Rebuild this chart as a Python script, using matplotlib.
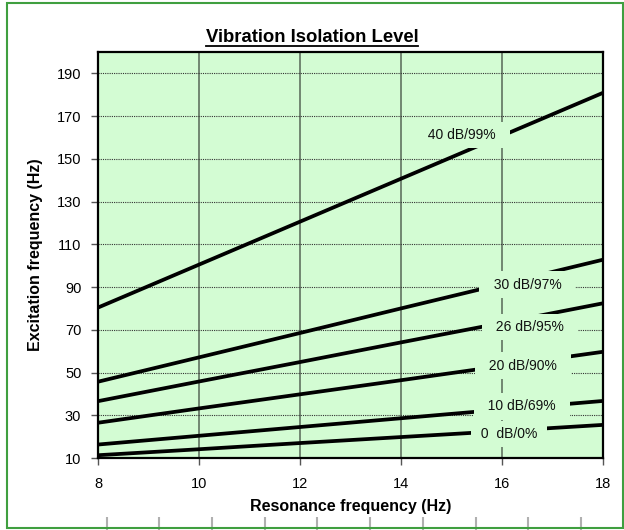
import matplotlib.pyplot as plt
from matplotlib.patches import Rectangle
from matplotlib.lines import Line2D

plt.rcParams['font.family'] = ['Liberation Sans', 'DejaVu Sans']

# resonance frequency (Hz)
res_freq = [8, 10, 12, 14, 16, 18]

# excitation frequency (Hz) for each isolation level
iso_40 = [80.4, 100.5, 120.6, 140.7, 160.8, 180.9]
iso_30 = [45.7, 57.1, 68.5, 80.0, 91.4, 102.8]
iso_26 = [36.6, 45.8, 54.9, 64.1, 73.2, 82.4]
iso_20 = [26.5, 33.2, 39.8, 46.4, 53.1, 59.7]
iso_10 = [16.3, 20.4, 24.5, 28.6, 32.7, 36.7]
iso_0 = [11.3, 14.1, 17.0, 19.8, 22.6, 25.5]

series = [iso_40, iso_30, iso_26, iso_20, iso_10, iso_0]
labels = ['40 dB/99%', '30 dB/97%', '26 dB/95%', '20 dB/90%', '10 dB/69%', '0  dB/0%']
label_x = [15.2, 16.5, 16.56, 16.42, 16.39, 16.14]
label_y = [161.1, 91.1, 71.2, 53.2, 34.2, 21.2]

y_ticks = list(range(10, 200, 20))
x_ticks = [8, 10, 12, 14, 16, 18]

bg = '#d3fcd3'

fig = plt.figure(figsize=(6.24, 5.30), dpi=100)
ax = fig.add_axes([98 / 624, 72 / 530, 505 / 624, 406 / 530])
ax.set_facecolor(bg)

for s in series:
    ax.plot(res_freq, s, color='black', lw=2.7, solid_capstyle='butt', zorder=3)

# labels sit on a box in the plot colour so they cut the lines and grid
for i, (txt, lx, ly) in enumerate(zip(labels, label_x, label_y)):
    sp = ' ' if i == len(labels) - 1 else '  '
    ax.text(lx, ly, sp + txt + sp, fontsize=10, ha='center', va='center', zorder=5,
            color='#111111',
            bbox=dict(boxstyle='square,pad=0.45', facecolor=bg, edgecolor='none'))

ax.set_xlim(8, 18)
ax.set_ylim(10, 200)
ax.set_xticks(x_ticks)
ax.set_yticks(y_ticks)
ax.tick_params(axis='both', labelsize=10.5, length=5, width=1, color='#555555')
ax.tick_params(axis='y', pad=7)
ax.tick_params(axis='x', pad=9)

ax.xaxis.grid(True, color='#566656', lw=1.1, zorder=1)
ax.yaxis.grid(True, color='#333333', lw=0.8, linestyle=(0, (1, 1)), zorder=1)
ax.set_axisbelow(True)
for side in ax.spines.values():
    side.set_linewidth(1.6)
    side.set_color('black')

fig.text(350.5 / 624, (530 - 506) / 530, 'Resonance frequency (Hz)', fontsize=11.5,
         fontweight='bold', ha='center', va='center')
fig.text(35.5 / 624, (530 - 255) / 530, 'Excitation frequency (Hz)', fontsize=11.5,
         fontweight='bold', ha='center', va='center', rotation=90)

title = fig.text(312 / 624, (530 - 37) / 530, 'Vibration Isolation Level', fontsize=13.3,
                 fontweight='bold', ha='center', va='center')

# underline the title
fig.canvas.draw()
bb = title.get_window_extent().transformed(fig.transFigure.inverted())
fig.add_artist(Line2D([bb.x0, bb.x1], [(530 - 46) / 530] * 2, color='black', lw=1.3,
                      transform=fig.transFigure))

# grey marks at the bottom edge (cut-off axis below)
bottom_marks = list(range(10))
ax2 = fig.add_axes([106.6 / 624, 0, (581 - 106.6) / 624, 13 / 530])
ax2.set_xlim(0, 9)
ax2.set_ylim(0, 1)
ax2.vlines(bottom_marks, 0, 1, color='#b0b0b0', lw=1.5, clip_on=False)
ax2.axis('off')

# green frame around the chart
fig.patches.append(Rectangle((7 / 624, 2 / 530), 615.7 / 624, 525.3 / 530,
                             transform=fig.transFigure, fill=False,
                             edgecolor='#3f9f3f', lw=1.5))

fig.savefig('out.png', dpi=100)
